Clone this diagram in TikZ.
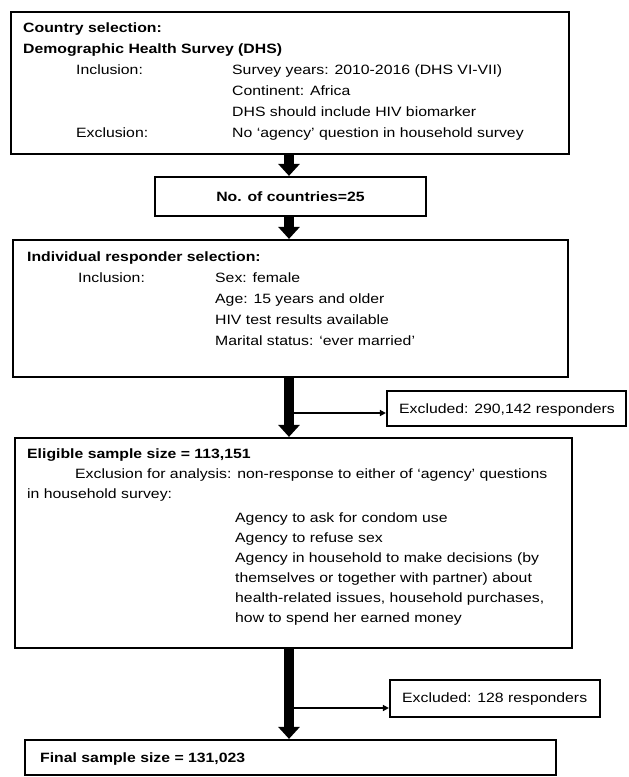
\documentclass[tikz,border=0pt]{standalone}
\usepackage{fontspec}
\setmainfont[FakeStretch=1.17]{Liberation Sans}
\usetikzlibrary{arrows.meta}
\begin{document}
\begin{tikzpicture}[x=1pt,y=-1pt,
  font=\fontsize{13.5}{16}\selectfont,
  box/.style={draw, line width=2.2pt, rectangle, inner sep=0pt},
  txt/.style={anchor=base west, inner sep=0pt},
  bigarrow/.style={line width=10pt, -{Triangle[width=21pt,length=12pt]}},
  thinarrow/.style={line width=1.5pt, -{Triangle[width=6pt,length=6pt]}}]
\useasboundingbox (0,0) rectangle (629,777);
% boxes
\node[box, minimum width=558pt, minimum height=142pt] (b1) at (290,83) {};
\node[box, minimum width=271pt, minimum height=39pt] (b2) at (290.5,196.5) {};
\node[box, minimum width=555pt, minimum height=137pt] (b3) at (290.5,308.5) {};
\node[box, minimum width=239pt, minimum height=35pt] (e1) at (506.5,408.5) {};
\node[box, minimum width=557pt, minimum height=210pt] (b4) at (293.5,543) {};
\node[box, minimum width=210pt, minimum height=37pt] (e2) at (495,698.5) {};
\node[box, minimum width=531pt, minimum height=35pt] (b5) at (290.5,757.5) {};
% box 1 text
\node[txt] (t1a) at (23,32) {\bfseries Country selection:};
\node[txt] (t1b) at (23,53) {\bfseries Demographic Health Survey (DHS)};
\node[txt] (t1c) at (76,74) {Inclusion:};
\node[txt] (t1d) at (232,74) {Survey years: 2010-2016 (DHS VI-VII)};
\node[txt] (t1e) at (232,95) {Continent: Africa};
\node[txt] (t1f) at (232,116) {DHS should include HIV biomarker};
\node[txt] (t1g) at (76,137) {Exclusion:};
\node[txt] (t1h) at (232,137) {No ‘agency’ question in household survey};
% box 2 text
\node[inner sep=0pt] (t2) at (b2.center) {\bfseries No. of countries=25};
% box 3 text
\node[txt] (t3a) at (27,261) {\bfseries Individual responder selection:};
\node[txt] (t3b) at (78,282) {Inclusion:};
\node[txt] (t3c) at (215,282) {Sex: female};
\node[txt] (t3d) at (215,303) {Age: 15 years and older};
\node[txt] (t3e) at (215,324) {HIV test results available};
\node[txt] (t3f) at (215,345) {Marital status: ‘ever married’};
% excluded 1
\node[txt] (te1) at (399,413) {Excluded: 290,142 responders};
% box 4 text
\node[txt] (t4a) at (27,458) {\bfseries Eligible sample size = 113,151};
\node[txt] (t4b) at (75,478) {Exclusion for analysis: non-response to either of ‘agency’ questions};
\node[txt] (t4c) at (27,498) {in household survey:};
\node[txt] (t4d) at (235,522) {Agency to ask for condom use};
\node[txt] (t4e) at (235,542) {Agency to refuse sex};
\node[txt] (t4f) at (235,562) {Agency in household to make decisions (by};
\node[txt] (t4g) at (235,582) {themselves or together with partner) about};
\node[txt] (t4h) at (235,602) {health-related issues, household purchases,};
\node[txt] (t4i) at (235,622) {how to spend her earned money};
% excluded 2
\node[txt] (te2) at (402,702) {Excluded: 128 responders};
% final
\node[txt] (t5) at (40,762) {\bfseries Final sample size = 131,023};
% connectors
\coordinate (ax) at (289,0);
\coordinate (br1) at (289,413);
\coordinate (br2) at (289,708);
\draw[thinarrow] (br1) -- (br1 -| e1.west);
\draw[thinarrow] (br2) -- (br2 -| e2.west);
\draw[bigarrow] (b1.south -| ax) -- (b2.north -| ax);
\draw[bigarrow] (b2.south -| ax) -- (b3.north -| ax);
\draw[bigarrow] (b3.south -| ax) -- (b4.north -| ax);
\draw[bigarrow] (b4.south -| ax) -- (b5.north -| ax);
\end{tikzpicture}
\end{document}
